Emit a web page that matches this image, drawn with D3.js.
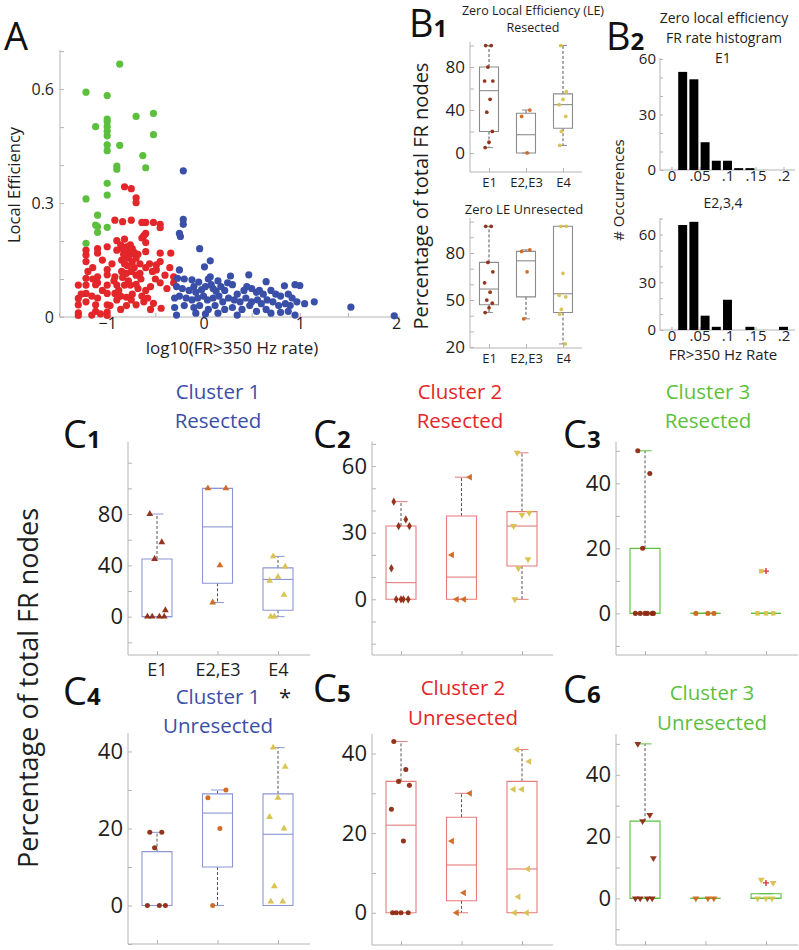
<!DOCTYPE html>
<html><head><meta charset="utf-8">
<script src="https://cdn.jsdelivr.net/npm/d3@7"></script>
<style>body{margin:0;background:#fff} svg{font-family:"Open Sans",sans-serif}</style>
</head><body>
<svg id="c" width="799" height="950"></svg>
<script>
// ---------------- DATA ----------------
const cats = ["E1","E2,E3","E4"];

// Panel A scatter: [log10 FR rate, local efficiency]
const greenPts = [[-1.22,0.592],[-0.87,0.666],[-1.0,0.583],[-0.70,0.528],[-0.52,0.536],[-1.0,0.521],[-1.0,0.514],
 [-1.12,0.501],[-1.0,0.501],[-1.0,0.489],[-1.0,0.477],[-0.52,0.480],[-1.0,0.453],[-0.87,0.452],[-1.0,0.438],
 [-0.63,0.425],[-0.90,0.397],[-0.90,0.389],[-0.60,0.393],[-1.0,0.352],[-1.0,0.321],[-1.22,0.311],[-1.10,0.268],
 [-1.12,0.242],[-1.10,0.238],[-1.10,0.223],[-1.0,0.236],[-1.22,0.194]];
const redPts = [[-0.82,0.343],[-0.75,0.338],[-0.70,0.314],[-0.70,0.301],[-0.92,0.255],[-0.84,0.251],[-0.75,0.255],
 [-0.64,0.249],[-0.60,0.249],[-0.52,0.249],[-0.45,0.244],[-0.45,0.235],[-0.60,0.220],[-0.62,0.214],[-0.64,0.208],
 [-1.22,0.176],[-1.22,0.163],[-1.22,0.146],[-1.10,0.180],[-1.10,0.168],[-1.0,0.185],[-0.90,0.201],[-0.82,0.205],
 [-0.90,0.176],[-0.86,0.19],[-0.84,0.18],[-0.8,0.185],[-0.78,0.175],[-0.76,0.19],[-0.74,0.18],[-0.83,0.165],
 [-0.8,0.16],[-0.78,0.155],[-0.85,0.15],[-0.76,0.165],[-0.72,0.17],[-0.82,0.14],[-0.79,0.135],[-0.74,0.145],
 [-0.7,0.155],[-0.68,0.165],[-0.6,0.196],[-0.60,0.172],[-0.45,0.168],[-0.34,0.168],[-0.45,0.146],[-0.49,0.137],
 [-0.49,0.124],[-0.60,0.13],[-0.53,0.12],[-0.66,0.115],[-0.7,0.11],[-0.75,0.12],[-0.8,0.115],[-0.72,0.13],
 [-0.66,0.14],[-0.56,0.14],[-1.0,0.125],[-1.0,0.111],[-1.10,0.106],[-1.22,0.102],[-1.15,0.10],[-1.30,0.084],
 [-1.22,0.084],[-1.12,0.085],[-0.92,0.106],[-0.84,0.104],[-0.78,0.095],[-0.90,0.084],[-0.82,0.084],[-0.76,0.084],
 [-0.70,0.086],[-1.0,0.084],[-1.10,0.09],[-1.22,0.062],[-1.16,0.055],[-1.10,0.05],[-1.0,0.062],[-0.92,0.062],
 [-0.86,0.055],[-0.8,0.052],[-0.74,0.06],[-0.64,0.055],[-0.7,0.032],[-0.90,0.045],[-1.30,0.049],[-1.30,0.032],
 [-1.30,0.011],[-1.30,0.004],[-1.22,0.04],[-1.12,0.032],[-1.12,0.015],[-1.16,0.005],[-1.0,0.032],[-1.0,0.013],
 [-1.0,0.004],[-1.07,0.008],[-0.52,0.036],[-0.44,0.023],[-0.31,0.106],[-0.31,0.09],[-0.6,0.07],[-0.55,0.08],
 [-0.5,0.1],[-0.45,0.09],[-0.4,0.11],[-0.38,0.075],[-0.86,0.02],[-0.8,0.03],[-0.62,0.04],[-0.58,0.05],
 [-0.85,0.12],[-0.95,0.14],[-0.93,0.095],[-1.05,0.15],[-1.15,0.13],[-1.2,0.12],[-0.88,0.07],[-0.68,0.075],
 [-0.35,0.13],[-0.65,0.1],[-1.05,0.07],[-1.27,0.06],[-0.97,0.03],[-0.75,0.045],[-0.55,0.02]];
const bluePts = [[-0.21,0.385],[-0.21,0.257],[-0.21,0.244],[-0.25,0.220],[-0.24,0.212],[-0.04,0.180],[0.07,0.148],
 [0.01,0.132],[-0.25,0.124],[-0.27,0.102],[-0.2,0.1],[-0.12,0.098],[-0.05,0.092],[0.05,0.1],[0.07,0.106],[0.15,0.095],
 [0.28,0.108],[0.47,0.111],[0.65,0.093],[0.84,0.082],[0.95,0.085],[1.0,0.083],[-0.28,0.08],[-0.22,0.075],[-0.15,0.07],
 [-0.1,0.08],[-0.08,0.065],[-0.02,0.072],[0.02,0.08],[0.08,0.085],[0.1,0.075],[0.13,0.068],[0.18,0.08],[0.22,0.07],
 [0.25,0.09],[0.3,0.085],[0.35,0.06],[0.42,0.07],[0.45,0.08],[0.5,0.075],[0.55,0.065],[0.58,0.07],[0.62,0.06],
 [0.7,0.07],[0.75,0.06],[0.8,0.055],[0.88,0.06],[0.92,0.05],[-0.3,0.05],[-0.25,0.055],[-0.18,0.05],[-0.12,0.045],
 [-0.06,0.05],[0.0,0.055],[0.04,0.045],[0.1,0.05],[0.16,0.055],[0.2,0.04],[0.26,0.05],[0.32,0.045],[0.38,0.04],
 [0.44,0.05],[0.5,0.04],[0.56,0.045],[0.6,0.035],[0.66,0.045],[0.72,0.04],[0.78,0.03],[0.85,0.035],[0.9,0.03],
 [0.97,0.04],[1.05,0.035],[1.15,0.04],[-0.3,0.025],[-0.2,0.03],[-0.1,0.025],[-0.04,0.03],[0.05,0.02],[0.12,0.03],
 [0.22,0.02],[0.3,0.025],[0.4,0.02],[0.48,0.03],[0.55,0.015],[0.65,0.02],[0.7,0.01],[0.8,0.012],[0.88,0.015],
 [0.95,0.005],[-0.28,0.005],[-0.08,0.01],[0.02,0.008],[0.15,0.01],[0.35,0.005],[1.53,0.026],[1.98,0.003]];

// B1 box stats: [lowWhisker, q1, median, q3, highWhisker]
const b1ResStats = [[5,20,58,80,100],[0,0,17,37,40],[7,23,45,55,100]];
const b1ResPts   = [[100,100,80,67,67,50,38,20,10,5],[40,34,0],[100,57,50,45,34,20,7]];
const b1UnrStats = [[42,47,57,74,97],[38,52,75,81,82],[22,42,54,97,97]];
const b1UnrPts   = [[97,97,74,68,61,55,50,48,45,42],[82,81,68,38],[97,97,67,53,52,44,41,22]];

// B2 histograms
const binCenters = [0.02,0.04,0.06,0.08,0.10,0.12,0.14,0.16,0.18,0.20];
const e1Counts   = [53,49,15,5,5,1,1,0,0,0];
const e234Counts = [66,68,9,2,19,0,2,0,0,2];
const histXTicks = [0,0.05,0.1,0.15,0.2];
const histXLabels = ["0",".05",".1",".15",".2"];

// C panels
const c1Stats = [[0,0,0,45,80],[11,26,70,100,100],[0,5,29,38,47]];
const c1Pts   = [[80,58,45,5,0,0,0,0],[100,100,40,11],[47,39,31,28,17,0,0]];
const c2Stats = [[0,0,7.5,33,44],[0,0,10,37.5,55],[0,15,33,39.5,66]];
const c2Pts   = [[44,36,33,33,14,0,0,0,0],[55,20,0,0],[66,39,38,33,18,14,0]];
const c3Stats = [[0,0,0,20,50],[0,0,0,0,0],[0,0,0,0,0]];
const c3Pts   = [[50,43,20,0,0,0,0,0,0],[0,0,0],[13,0,0,0]];
const c3Out   = [[],[],[13]];
const c4Stats = [[0,0,0,14,19],[0,10,24,29,30],[0,0,18.5,29,41]];
const c4Pts   = [[19,19,15,0,0,0],[30,28,20,0],[41,36,28,23,20,5,1,1]];
const c5Stats = [[0,0,22,33,43],[0,3,12,24,30],[0,0,11,33,41]];
const c5Pts   = [[43,36,33,32,26,18,0,0,0,0],[30,18,5,0],[41,38,31,31,11,4,0,0]];
const c6Stats = [[0,0,0,25,50],[0,0,0,0,0],[0,0,0,1.5,1.5]];
const c6Pts   = [[50,27,25,13,0,0,0,0],[0,0,0],[6,5,0,0,0]];
const c6Out   = [[],[],[5]];

// ---------------- STYLE ----------------
const AXC = "#b4b4b4", TXT = "#1e1e1e";
const BLUE = "#3a4fa8", RED = "#e3262a", GREEN = "#5cbf3e";
const ptCols = ["#8e2a12","#d0661f","#d8c14a"];
const jitter = [-6,4,-2,7,-8,2,-4,6,0,-7,5,-3];

const svg = d3.select("#c");

function styleAxis(sel, fs){
  sel.attr("font-family",'"Open Sans",sans-serif').attr("font-size",fs);
  sel.selectAll(".tick line").attr("stroke",AXC);
  sel.selectAll(".tick text").attr("fill",TXT);
  sel.select(".domain").remove();
}
const isIn = (arr,d)=>arr.some(v=>Math.abs(v-d)<1e-9);

function txt(x,y,s,fs,opt={}){
  const t = svg.append("text").attr("x",x).attr("y",y).attr("font-size",fs)
    .attr("fill",opt.fill||TXT).attr("text-anchor",opt.anchor||"start").text(s);
  if(opt.rot) t.attr("transform",`rotate(-90,${x},${y})`);
  return t;
}
function panelLabel(x,y,letter,sub){
  const t = svg.append("text").attr("x",x).attr("y",y).attr("fill","#111");
  t.append("tspan").attr("font-size",38).text(letter);
  if(sub) t.append("tspan").attr("font-size",24).attr("font-weight","bold").text(sub);
}

// ---------------- PANEL A ----------------
(function(){
  const x = d3.scaleLinear().domain([-1.49,2.04]).range([60,400]);
  const y = d3.scaleLinear().domain([0,0.703]).range([317,50]);
  const g = svg.append("g");
  g.append("line").attr("x1",60).attr("x2",60).attr("y1",50).attr("y2",317).attr("stroke",AXC);
  g.append("line").attr("x1",60).attr("x2",400).attr("y1",317).attr("y2",317).attr("stroke",AXC);
  const ya = d3.axisLeft(y).tickValues([0,0.1,0.2,0.3,0.4,0.5,0.6,0.7]).tickSize(-4).tickPadding(6)
    .tickFormat(d=>isIn([0,0.3,0.6],d)? (d===0?"0":d3.format(".1f")(d)) : "");
  g.append("g").attr("transform","translate(60,0)").call(ya).call(s=>styleAxis(s,16));
  const xa = d3.axisBottom(x).tickValues([-1.5,-1,-0.5,0,0.5,1,1.5,2]).tickSize(-4).tickPadding(1)
    .tickFormat(d=>isIn([-1,0,1,2],d)? d3.format("d")(d) : "");
  g.append("g").attr("transform","translate(0,317)").call(xa).call(s=>styleAxis(s,16));
  const draw=(pts,col)=>g.append("g").selectAll("circle").data(pts).join("circle")
    .attr("cx",d=>x(d[0])).attr("cy",d=>y(d[1])).attr("r",3.6).attr("fill",col);
  draw(redPts,RED); draw(greenPts,GREEN); draw(bluePts,BLUE);
  panelLabel(4,50,"A");
  txt(20,185,"Local Efficiency",16.5,{anchor:"middle",rot:true});
  txt(232,354,"log10(FR>350 Hz rate)",17,{anchor:"middle"});
})();

// ---------------- BOX PANEL HELPER ----------------
function symPath(type,size){
  const map={circle:d3.symbolCircle,tri:d3.symbolTriangle,diamond:d3.symbolDiamond,square:d3.symbolSquare};
  return d3.symbol().type(map[type]||d3.symbolCircle).size(size)();
}
const rotFor = {up:0,left:-90,down:180,right:90};

function boxPanel(p){
  const g = svg.append("g");
  const y = d3.scaleLinear().domain(p.domain).range([p.bottom,p.top]);
  const x = d3.scalePoint().domain(cats).range([p.axisX+p.off[0], p.axisX+p.off[1]]);
  g.append("line").attr("x1",p.axisX).attr("x2",p.axisX).attr("y1",p.top).attr("y2",p.bottom).attr("stroke",AXC);
  g.append("line").attr("x1",p.axisX).attr("x2",p.xEnd).attr("y1",p.bottom).attr("y2",p.bottom).attr("stroke",AXC);
  const ya = d3.axisLeft(y).tickValues(p.ticks).tickSize(-4).tickPadding(5)
    .tickFormat(d=>isIn(p.labeled,d)? d3.format("d")(d):"");
  g.append("g").attr("transform",`translate(${p.axisX},0)`).call(ya).call(s=>styleAxis(s,p.fs));
  const xa = d3.axisBottom(x).tickSize(-4).tickPadding(p.catPad||6).tickFormat(p.showCats? d=>d : ()=>"");
  g.append("g").attr("transform",`translate(0,${p.bottom})`).call(xa).call(s=>styleAxis(s,p.catFs||p.fs));
  p.stats.forEach((s,i)=>{
    const cx = x(cats[i]), hw = p.boxW/2, cw = p.capW/2;
    if(s[4]>s[3]) g.append("line").attr("x1",cx).attr("x2",cx).attr("y1",y(s[3])).attr("y2",y(s[4]))
      .attr("stroke","#555").attr("stroke-dasharray","3,2");
    if(s[1]>s[0]) g.append("line").attr("x1",cx).attr("x2",cx).attr("y1",y(s[1])).attr("y2",y(s[0]))
      .attr("stroke","#555").attr("stroke-dasharray","3,2");
    [s[0],s[4]].forEach(v=>g.append("line").attr("x1",cx-cw).attr("x2",cx+cw).attr("y1",y(v)).attr("y2",y(v))
      .attr("stroke",p.boxCol));
    g.append("path").attr("d",`M${cx-hw},${y(s[1])}H${cx+hw}V${y(s[3])}H${cx-hw}Z`)
      .attr("fill","none").attr("stroke",p.boxCol).attr("stroke-width",1.1);
    g.append("line").attr("x1",cx-hw).attr("x2",cx+hw).attr("y1",y(s[2])).attr("y2",y(s[2]))
      .attr("stroke",p.boxCol).attr("stroke-width",1.1);
    (p.out? p.out[i]:[]).forEach(v=>{
      g.append("path").attr("d",`M${cx-3},${y(v)}H${cx+3}M${cx},${y(v)-3}V${y(v)+3}`)
        .attr("stroke","#e0303a").attr("stroke-width",1.4);
    });
    p.pts[i].forEach((v,j)=>{
      const sy = p.sym[i];
      g.append("path").attr("d",symPath(sy.type,p.symSize))
        .attr("transform",`translate(${cx+jitter[(j+i*3)%jitter.length]*p.jit},${y(v)}) rotate(${rotFor[sy.dir||"up"]})`)
        .attr("fill",ptCols[i]).attr("opacity",0.95);
    });
  });
}

// ---------------- PANEL B1 ----------------
const dots = [{type:"circle"},{type:"circle"},{type:"circle"}];
boxPanel({axisX:470,top:42,bottom:172,xEnd:582,domain:[-17.7,103.3],ticks:[0,20,40,60,80,100],labeled:[0,40,80],
  off:[19,93],boxW:19,capW:8,fs:17,catFs:13,catPad:6,showCats:true,stats:b1ResStats,pts:b1ResPts,
  boxCol:"#8c8c8c",sym:dots,symSize:11,jit:0.55});
boxPanel({axisX:470,top:218,bottom:348,xEnd:582,domain:[19.4,102.3],ticks:[20,30,40,50,60,70,80,90,100],labeled:[20,50,80],
  off:[19,93],boxW:19,capW:8,fs:17,catFs:13,catPad:6,showCats:true,stats:b1UnrStats,pts:b1UnrPts,
  boxCol:"#8c8c8c",sym:dots,symSize:11,jit:0.55});
panelLabel(409,37,"B","1");
txt(533,15,"Zero Local Efficiency (LE)",12.5,{anchor:"middle"});
txt(533,32,"Resected",12.5,{anchor:"middle"});
txt(524,214,"Zero LE Unresected",13,{anchor:"middle"});
txt(428,196,"Percentage of total FR nodes",20,{anchor:"middle",rot:true});

// ---------------- PANEL B2 ----------------
function hist(p){
  const g = svg.append("g");
  const x = d3.scaleLinear().domain([-0.0205,0.2116]).range([660,790]);
  const y = d3.scaleLinear().domain(p.domain).range([p.bottom,p.top]);
  g.append("line").attr("x1",660).attr("x2",660).attr("y1",p.top).attr("y2",p.bottom).attr("stroke",AXC);
  g.append("line").attr("x1",660).attr("x2",795).attr("y1",p.bottom).attr("y2",p.bottom).attr("stroke",AXC);
  const ya = d3.axisLeft(y).tickValues(p.ticks).tickSize(-3).tickPadding(4)
    .tickFormat(d=>isIn([0,30,60],d)? d3.format("d")(d):"");
  g.append("g").attr("transform","translate(660,0)").call(ya).call(s=>styleAxis(s,15));
  const xa = d3.axisBottom(x).tickValues(histXTicks).tickSize(-3).tickPadding(0)
    .tickFormat((d,i)=>histXLabels[i]);
  g.append("g").attr("transform",`translate(0,${p.bottom})`).call(xa).call(s=>styleAxis(s,15));
  g.selectAll("rect").data(binCenters.map((c,i)=>[c,p.counts[i]]).filter(d=>d[1]>0)).join("rect")
    .attr("x",d=>x(d[0]-0.008)).attr("width",d=>x(d[0]+0.008)-x(d[0]-0.008))
    .attr("y",d=>y(d[1])).attr("height",d=>p.bottom-y(d[1])).attr("fill","#000");
}
hist({top:58,bottom:170,domain:[0,60.5],ticks:[0,10,20,30,40,50,60],counts:e1Counts});
hist({top:218,bottom:330,domain:[0,70.4],ticks:[0,10,20,30,40,50,60,70],counts:e234Counts});
panelLabel(606,50,"B","2");
txt(724,23,"Zero local efficiency",14,{anchor:"middle"});
txt(724,43,"FR rate histogram",14,{anchor:"middle"});
txt(723,63,"E1",14,{anchor:"middle"});
txt(723,208,"E2,3,4",14,{anchor:"middle"});
txt(624,190,"# Occurrences",15,{anchor:"middle",rot:true});
txt(723,360,"FR>350 Hz Rate",15,{anchor:"middle"});

// ---------------- PANELS C ----------------
const common = {off:[29,150],boxW:30,capW:13,fs:22,catFs:18,catPad:8,symSize:20,jit:1.2};
const t3 = d=>[{type:"tri",dir:d},{type:"tri",dir:d},{type:"tri",dir:d}];
boxPanel(Object.assign({},common,{axisX:128,top:441.7,bottom:655,xEnd:310,domain:[-29.9,136.4],
  ticks:[-20,0,20,40,60,80,100,120],labeled:[0,40,80],showCats:true,stats:c1Stats,pts:c1Pts,boxCol:"#8a97d4",sym:t3("up")}));
boxPanel(Object.assign({},common,{axisX:372,top:441.7,bottom:655,xEnd:553,domain:[-25.1,71],
  ticks:[-20,-10,0,10,20,30,40,50,60,70],labeled:[0,30,60],showCats:false,stats:c2Stats,pts:c2Pts,boxCol:"#e57b7b",
  sym:[{type:"diamond"},{type:"tri",dir:"left"},{type:"tri",dir:"down"}]}));
boxPanel(Object.assign({},common,{axisX:616,top:441.7,bottom:655,xEnd:798,domain:[-12.8,52.8],
  ticks:[-10,0,10,20,30,40,50],labeled:[0,20,40],showCats:false,stats:c3Stats,pts:c3Pts,out:c3Out,boxCol:GREEN,
  sym:[{type:"circle"},{type:"circle"},{type:"square"}]}));
boxPanel(Object.assign({},common,{axisX:128,top:733,bottom:944,xEnd:310,domain:[-10,44.8],
  ticks:[-10,0,10,20,30,40],labeled:[0,20,40],showCats:false,stats:c4Stats,pts:c4Pts,boxCol:"#8a97d4",
  sym:[{type:"circle"},{type:"circle"},{type:"tri",dir:"up"}]}));
boxPanel(Object.assign({},common,{axisX:372,top:734,bottom:945,xEnd:553,domain:[-8.1,44.9],
  ticks:[0,10,20,30,40],labeled:[0,20,40],showCats:false,stats:c5Stats,pts:c5Pts,boxCol:"#e57b7b",
  sym:[{type:"circle"},{type:"tri",dir:"left"},{type:"tri",dir:"left"}]}));
boxPanel(Object.assign({},common,{axisX:616,top:734,bottom:945,xEnd:798,domain:[-15.1,53.2],
  ticks:[-10,0,10,20,30,40,50],labeled:[0,20,40],showCats:false,stats:c6Stats,pts:c6Pts,out:c6Out,boxCol:GREEN,
  sym:t3("down")}));

panelLabel(63,448,"C","1"); panelLabel(313,448,"C","2"); panelLabel(563,448,"C","3");
panelLabel(63,705,"C","4"); panelLabel(313,702,"C","5"); panelLabel(563,703,"C","6");
[[218,399,428,"Cluster 1","Resected",BLUE],[460,399,428,"Cluster 2","Resected",RED],[708,399,428,"Cluster 3","Resected",GREEN],
 [218,704,733,"Cluster 1","Unresected",BLUE],[463,695,725,"Cluster 2","Unresected",RED],[712,700,730,"Cluster 3","Unresected",GREEN]]
 .forEach(d=>{txt(d[0],d[1],d[3],20.5,{anchor:"middle",fill:d[5]}); txt(d[0],d[2],d[4],20.5,{anchor:"middle",fill:d[5]});});
txt(285,705,"*",22,{anchor:"middle"});
txt(38,688,"Percentage of total FR nodes",27,{anchor:"middle",rot:true});
</script>
</body></html>
